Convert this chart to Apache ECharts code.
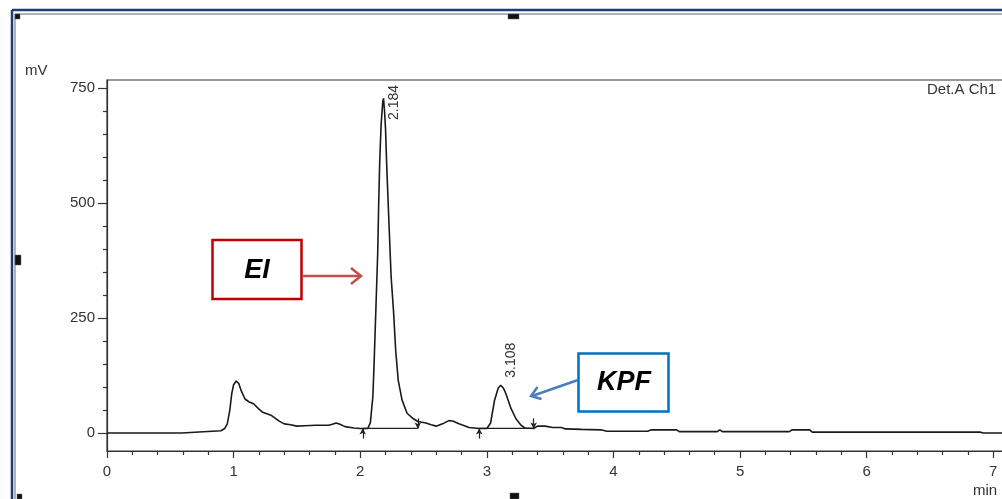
<!DOCTYPE html>
<html>
<head>
<meta charset="utf-8">
<script src="https://cdn.jsdelivr.net/npm/echarts@6/dist/echarts.min.js"></script>
<style>
html,body{margin:0;padding:0;background:#fff;overflow:hidden;width:1002px;height:499px;}
#chart{width:1070px;height:499px;}
</style>
</head>
<body>
<div id="chart"></div>
<script>
// ---- data ----
const timeMin = [0.00,0.59,0.60,0.90,0.93,0.95,0.97,0.985,1.00,1.02,1.04,1.06,1.09,1.12,1.16,1.20,1.23,1.30,1.36,1.40,1.45,1.50,1.56,1.65,1.75,1.78,1.81,1.84,1.88,1.95,2.00,2.06,2.08,2.10,2.11,2.125,2.138,2.146,2.154,2.165,2.178,2.184,2.192,2.20,2.21,2.228,2.244,2.263,2.28,2.30,2.33,2.37,2.42,2.455,2.47,2.52,2.56,2.60,2.65,2.70,2.73,2.78,2.86,2.94,3.00,3.03,3.06,3.09,3.11,3.13,3.15,3.19,3.23,3.27,3.30,3.37,3.40,3.46,3.52,3.59,3.62,3.75,3.90,3.95,4.27,4.30,4.50,4.52,4.82,4.84,4.86,5.39,5.41,5.55,5.57,6.90,6.92,7.50];
const signalMv = [0,0,4,5,10,20,50,85,105,113,108,92,74,68,63,52,45,38,26,20,18,15,16,17,17,19,22,19,14,11,10,10,22,80,155,280,390,500,590,670,720,727,700,660,575,450,340,265,180,115,72,43,31,25,24,22,18,15,20,27,26,20,12,10,10,22,70,98,104,98,86,54,31,17,11,10,15,15,12,12,9,8,7,4,4,7,7,3,3,7,3,3,7,7,2,2,0,0];
const peakTimes = [2.184, 3.108];
const peakHeights = [727, 104];
const peakLabels = ['2.184', '3.108'];
const baseStart = [2.02, 2.94];
const baseEnd = [2.455, 3.37];
const baseLevel = 10;
const yMajorTicks = [0, 250, 500, 750];
const yMinorTicks = [50,100,150,200,300,350,400,450,550,600,650,700];

const trace = timeMin.map((t, i) => [t, signalMv[i]]);

const chart = echarts.init(document.getElementById('chart'), null, {renderer: 'canvas'});
const axisColor = '#333';
const labelFont = {fontFamily: 'Liberation Sans, Arial, sans-serif', fontSize: 15, color: '#333'};

const baselineSeries = baseStart.map((s, i) => ({
  type: 'line',
  data: [[s, baseLevel], [baseEnd[i], baseLevel]],
  symbol: 'none',
  lineStyle: {color: '#222', width: 1.2},
  silent: true,
  z: 3,
  markLine: {
    silent: true,
    symbol: ['none', 'arrow'],
    symbolSize: [5, 6],
    label: {show: false},
    lineStyle: {color: '#222', width: 1.2, type: 'solid'},
    data: [
      [{coord: [s, -12]}, {coord: [s, baseLevel]}],
      [{coord: [baseEnd[i], 32]}, {coord: [baseEnd[i], baseLevel]}]
    ]
  }
}));

chart.setOption({
  animation: false,
  backgroundColor: '#fff',
  grid: {left: 107, top: 80, right: 5.25, bottom: 48, show: true, borderColor: axisColor, borderWidth: 1.2, backgroundColor: 'transparent'},
  xAxis: {
    type: 'value', min: 0, max: 7.5, interval: 1,
    axisLine: {show: true, onZero: false, lineStyle: {color: axisColor, width: 1.2}},
    axisTick: {show: true, length: 7, lineStyle: {color: axisColor, width: 1.2}},
    minorTick: {show: true, splitNumber: 5, length: 4, lineStyle: {color: axisColor, width: 1.2}},
    axisLabel: Object.assign({margin: 13}, labelFont),
    splitLine: {show: false}
  },
  yAxis: [{
    type: 'value', min: -39, max: 767, position: 'left',
    axisLine: {show: true, onZero: false, lineStyle: {color: axisColor, width: 1.2}},
    axisTick: {show: true, length: 9, customValues: yMajorTicks, lineStyle: {color: axisColor, width: 1.2}},
    axisLabel: Object.assign({margin: 12, customValues: yMajorTicks}, labelFont),
    splitLine: {show: false}
  }, {
    type: 'value', min: -39, max: 767, position: 'left',
    axisLine: {show: false},
    axisTick: {show: true, length: 4, customValues: yMinorTicks, lineStyle: {color: axisColor, width: 1.2}},
    axisLabel: {show: false},
    splitLine: {show: false}
  }],
  series: [{
    type: 'line',
    data: trace,
    symbol: 'none',
    lineStyle: {color: '#1a1a1a', width: 1.6},
    silent: true,
    z: 4
  }].concat(baselineSeries)
});

// ---- annotations ----
const g = [];
// document frame
g.push({type: 'line', shape: {x1: 12, y1: 10, x2: 12, y2: 499}, style: {stroke: '#1f3c78', lineWidth: 2.5}});
g.push({type: 'line', shape: {x1: 12, y1: 10, x2: 1070, y2: 10}, style: {stroke: '#1f3c78', lineWidth: 2.5}});
g.push({type: 'line', shape: {x1: 15, y1: 14, x2: 15, y2: 499}, style: {stroke: '#9a9a9a', lineWidth: 1.5}});
g.push({type: 'line', shape: {x1: 15, y1: 14, x2: 1070, y2: 14}, style: {stroke: '#9a9a9a', lineWidth: 1.5}});
// handles
[[15,14,5,5],[508,14,11,5],[15,255,6,10],[17,494,5,5],[510,493,9,6]].forEach(h => {
  g.push({type: 'rect', shape: {x: h[0], y: h[1], width: h[2], height: h[3]}, style: {fill: '#111', stroke: '#666', lineWidth: 0.5}});
});
// axis titles
const smallText = {fontFamily: 'Liberation Sans', fontSize: 15, fill: '#333', textVerticalAlign: 'middle'};
g.push({type: 'text', x: 25, y: 71, style: Object.assign({text: 'mV'}, smallText)});
g.push({type: 'text', x: 927, y: 90, style: Object.assign({text: 'Det.A Ch1'}, smallText)});
g.push({type: 'text', x: 973, y: 491, style: Object.assign({text: 'min'}, smallText)});
// peak labels (rotated)
const peakOffsets = [[11, 4], [11, -25]];
peakTimes.forEach((t, i) => {
  const p = chart.convertToPixel({gridIndex: 0}, [t, peakHeights[i]]);
  g.push({type: 'text', x: p[0] + peakOffsets[i][0], y: p[1] + peakOffsets[i][1], rotation: Math.PI / 2,
    style: {text: peakLabels[i], fontFamily: 'Liberation Sans', fontSize: 14, fill: '#333', textAlign: 'center', textVerticalAlign: 'middle'}});
});
const boxText = {fontFamily: 'Liberation Sans', fontSize: 27, fontStyle: 'italic', fontWeight: 'bold', fill: '#000', textAlign: 'center', textVerticalAlign: 'middle'};
// EI box + arrow
g.push({type: 'rect', shape: {x: 212.5, y: 240, width: 89, height: 59}, style: {fill: '#fff', stroke: '#c00000', lineWidth: 2.5}, z: 10});
g.push({type: 'text', x: 257, y: 271, z: 11, style: Object.assign({text: 'EI'}, boxText)});
g.push({type: 'polyline', z: 10, shape: {points: [[302, 276], [361, 276]]}, style: {stroke: '#c0504d', lineWidth: 2.5, fill: null}});
g.push({type: 'polyline', z: 10, shape: {points: [[351, 268], [361, 276], [351, 284]]}, style: {stroke: '#c0504d', lineWidth: 2.5, fill: null}});
// KPF box + arrow
g.push({type: 'rect', shape: {x: 578.5, y: 353.5, width: 90, height: 58}, style: {fill: '#fff', stroke: '#0070c0', lineWidth: 2.5}, z: 10});
g.push({type: 'text', x: 624, y: 383, z: 11, style: Object.assign({text: 'KPF'}, boxText)});
g.push({type: 'polyline', z: 10, shape: {points: [[578, 380], [532, 396]]}, style: {stroke: '#4a7ebb', lineWidth: 2.5, fill: null}});
g.push({type: 'polyline', z: 10, shape: {points: [[541.5, 399], [531, 396], [537.5, 387]]}, style: {stroke: '#4a7ebb', lineWidth: 2.5, fill: null}});

chart.setOption({graphic: {elements: g}});
</script>
</body>
</html>
